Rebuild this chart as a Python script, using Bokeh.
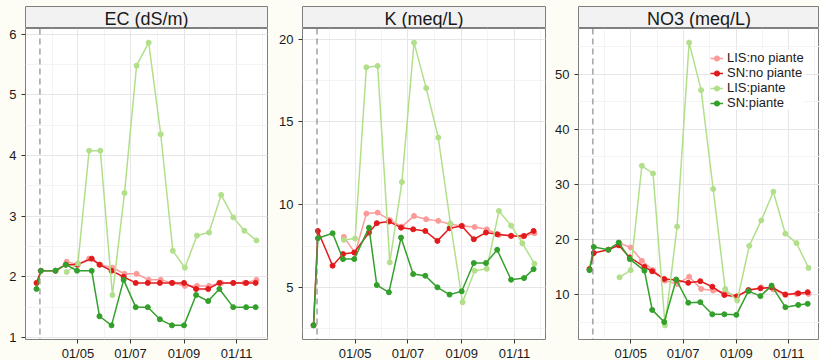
import pandas as pd
from bokeh.plotting import figure
from bokeh.models import (Range1d, FixedTicker, SingleIntervalTicker, DatetimeTickFormatter,
                          Span, Legend, LegendItem)
from bokeh.layouts import row, column
from bokeh.core.properties import value
from bokeh.embed import file_html
from bokeh.resources import INLINE

# ---------------- data ----------------
sn_dates = ["2014-03-14", "2014-03-19", "2014-04-05", "2014-04-17", "2014-04-30",
            "2014-05-17", "2014-05-26", "2014-06-09", "2014-06-23", "2014-07-07",
            "2014-07-21", "2014-08-04", "2014-08-18", "2014-09-01", "2014-09-15",
            "2014-09-29", "2014-10-12", "2014-10-28", "2014-11-12", "2014-11-23"]
lis_dates = ["2014-04-18", "2014-05-01", "2014-05-14", "2014-05-27", "2014-06-10",
             "2014-06-24", "2014-07-08", "2014-07-22", "2014-08-05", "2014-08-19",
             "2014-09-02", "2014-09-16", "2014-09-30", "2014-10-14", "2014-10-28",
             "2014-11-10", "2014-11-24"]

series_names = ["LIS:no piante", "SN:no piante", "LIS:piante", "SN:piante"]
series_colors = ["#FB9A99", "#E31A1C", "#B2DF8A", "#33A02C"]
panel_titles = ["EC (dS/m)", "K (meq/L)", "NO3 (meq/L)"]

ec_lis_no = [2.25, 2.2, 2.3, 2.2, 2.15, 2.05, 2.05, 1.95, 1.95, 1.9, 1.85, 1.85, 1.85, 1.9, 1.9, 1.9, 1.95]
ec_sn_no = [1.9, 2.1, 2.1, 2.2, 2.2, 2.3, 2.2, 2.1, 2.0, 1.9, 1.9, 1.9, 1.9, 1.9, 1.8, 1.8, 1.9, 1.9, 1.9, 1.9]
ec_lis_pi = [2.08, 2.22, 4.08, 4.08, 1.7, 3.38, 5.48, 5.86, 4.35, 2.43, 2.15, 2.68, 2.73, 3.35, 2.98, 2.76, 2.6]
ec_sn_pi = [1.8, 2.1, 2.1, 2.2, 2.1, 2.1, 1.35, 1.2, 1.95, 1.5, 1.5, 1.3, 1.2, 1.2, 1.7, 1.6, 1.8, 1.5, 1.5, 1.5]

k_lis_no = [8.05, 7.07, 9.46, 9.52, 9.08, 8.67, 9.32, 9.12, 9.02, 8.82, 8.71, 8.65, 8.51, 8.17, 8.13, 8.07, 8.27]
k_sn_no = [2.7, 8.41, 6.31, 7.01, 7.11, 8.31, 8.88, 8.98, 8.61, 8.51, 8.41, 7.81, 8.57, 8.71, 7.91, 8.31, 8.21, 8.11, 8.11, 8.41]
k_lis_pi = [7.87, 7.95, 18.31, 18.39, 6.51, 11.37, 19.8, 17.05, 14.06, 8.86, 4.1, 6.0, 6.12, 9.62, 8.73, 7.67, 6.43]
k_sn_pi = [2.71, 7.97, 8.27, 6.71, 6.71, 8.61, 5.14, 4.70, 8.01, 5.80, 5.70, 5.0, 4.56, 4.76, 6.47, 6.47, 7.27, 5.46, 5.56, 6.1]

no3_lis_no = [19.4, 18.6, 16.2, 14.5, 12.6, 12.0, 13.3, 11.1, 10.8, 10.5, 9.8, 10.8, 11.4, 11.0, 10.0, 10.2, 10.2]
no3_sn_no = [14.7, 17.6, 18.2, 19.0, 16.8, 15.1, 14.3, 12.9, 12.7, 12.2, 12.5, 11.5, 10.0, 9.7, 10.9, 11.2, 11.4, 10.1, 10.3, 10.5]
no3_lis_pi = [13.2, 14.5, 33.4, 32.0, 4.5, 22.4, 55.7, 47.1, 29.2, 11.1, 9.0, 18.9, 23.5, 28.7, 21.1, 19.4, 14.9]
no3_sn_pi = [14.5, 18.7, 18.2, 19.5, 16.5, 14.4, 7.3, 5.1, 12.8, 8.6, 8.7, 6.5, 6.5, 6.4, 10.7, 9.8, 11.7, 7.8, 8.2, 8.4]

x_major_ticks = ["2014-05-01", "2014-07-01", "2014-09-01", "2014-11-01"]
x_minor_ticks = ["2014-04-01", "2014-06-01", "2014-08-01", "2014-10-01", "2014-12-01"]
y_tick_intervals = [1, 5, 10]
marker_date = "2014-03-18"

# ---------------- helpers ----------------
def to_ms(lst):
    return [float(v) for v in (pd.to_datetime(lst).asi8 // 10**6)]

sn_x = to_ms(sn_dates)
lis_x = to_ms(lis_dates)
series_dates = [lis_x, sn_x, lis_x, sn_x]
panels = [
    [ec_lis_no, ec_sn_no, ec_lis_pi, ec_sn_pi],
    [k_lis_no, k_sn_no, k_lis_pi, k_sn_pi],
    [no3_lis_no, no3_sn_no, no3_lis_pi, no3_sn_pi],
]

all_x = sn_x + lis_x
xmin, xmax = min(all_x), max(all_x)
xspan = xmax - xmin
x_start, x_end = xmin - 0.05 * xspan, xmax + 0.05 * xspan

BG = "#FDFDF5"
BORDER = "#7F7F7F"
FONT = "Liberation Sans"
TXT = "#1A1A1A"

lefts = [25, 34, 32]
frames = [242, 243, 241]
rights = [1, 1, 0]

fmt = DatetimeTickFormatter(milliseconds="%d/%m", seconds="%d/%m", minsec="%d/%m",
                            minutes="%d/%m", hourmin="%d/%m", hours="%d/%m",
                            days="%d/%m", months="%d/%m", years="%d/%m")

columns = []
for i in range(3):
    w = lefts[i] + frames[i] + rights[i]
    # strip
    s = figure(width=w, height=28, title=None, toolbar_location=None, output_backend="svg",
               x_range=Range1d(0, 1), y_range=Range1d(0, 1),
               x_axis_location=None, y_axis_location=None,
               min_border_left=lefts[i], min_border_right=rights[i],
               min_border_top=6, min_border_bottom=0)
    s.grid.visible = False
    s.background_fill_color = "#F2F2F2"
    s.border_fill_color = BG
    s.outline_line_color = BORDER
    s.outline_line_width = 1
    s.text(x=[0.5], y=[0.45], text=[panel_titles[i]], text_align="center",
           text_baseline="middle", text_font=value(FONT), text_font_size="18px",
           text_color=TXT)

    vals = panels[i]
    ally = [v for ser in vals for v in ser]
    ymin, ymax = min(ally), max(ally)
    yspan = ymax - ymin
    p = figure(width=w, height=335, title=None, toolbar_location=None, output_backend="svg",
               x_axis_type="datetime",
               x_range=Range1d(x_start, x_end),
               y_range=Range1d(ymin - 0.05 * yspan, ymax + 0.05 * yspan),
               min_border_left=lefts[i], min_border_right=rights[i],
               min_border_top=0, min_border_bottom=22)
    p.background_fill_color = "white"
    p.border_fill_color = BG
    p.outline_line_color = BORDER
    p.outline_line_width = 1

    xt = FixedTicker(ticks=to_ms(x_major_ticks), minor_ticks=to_ms(x_minor_ticks))
    yt = SingleIntervalTicker(interval=y_tick_intervals[i], num_minor_ticks=2)
    p.xaxis.ticker = xt
    p.xgrid.ticker = xt
    p.yaxis.ticker = yt
    p.ygrid.ticker = yt
    p.xaxis.formatter = fmt
    for ax in (p.xaxis, p.yaxis):
        ax.axis_line_color = None
        ax.major_tick_line_color = "#333333"
        ax.major_tick_out = 4
        ax.major_tick_in = 0
        ax.minor_tick_out = 0
        ax.minor_tick_in = 0
        ax.minor_tick_line_color = None
        ax.major_label_text_font = FONT
        ax.major_label_text_font_size = "13px"
        ax.major_label_text_color = TXT
    p.xaxis.major_label_standoff = 2
    p.yaxis.major_label_standoff = 5
    for g in (p.xgrid, p.ygrid):
        g.grid_line_color = "#E6E6E6"
        g.grid_line_width = 1
        g.minor_grid_line_color = "#F3F3F3"
        g.minor_grid_line_width = 1

    p.add_layout(Span(location=to_ms([marker_date])[0], dimension="height",
                      line_color="#737373", line_width=1, line_dash="6 4"))

    items = []
    for k in range(4):
        lr = p.line(series_dates[k], vals[k], line_color=series_colors[k], line_width=1.5)
        sr = p.scatter(series_dates[k], vals[k], size=5, fill_color=series_colors[k],
                       line_color=series_colors[k])
        items.append(LegendItem(label=series_names[k], renderers=[lr, sr]))

    if i == 2:
        leg = Legend(items=items, location=(132, 229))
        leg.margin = 0
        leg.padding = 2
        leg.spacing = -2
        leg.glyph_width = 13
        leg.glyph_height = 14
        leg.label_height = 14
        leg.label_standoff = 4
        leg.label_text_font = FONT
        leg.label_text_font_size = "13px"
        leg.label_text_color = TXT
        leg.background_fill_color = "white"
        leg.background_fill_alpha = 1
        leg.border_line_color = None
        p.add_layout(leg)

    columns.append(column(s, p, spacing=0))

layout = row(*columns, spacing=0, width=819, height=360,
             styles={"background-color": BG, "overflow": "hidden"})
open("out.html", "w").write(file_html(layout, INLINE))
